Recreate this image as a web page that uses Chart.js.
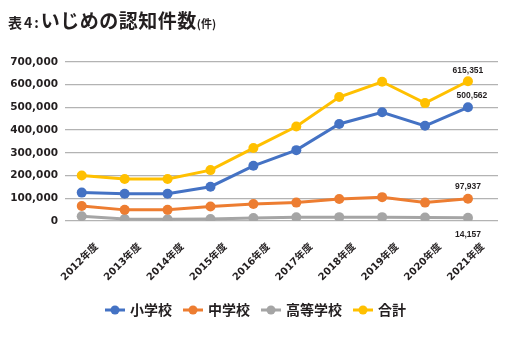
<!DOCTYPE html>
<html>
<head>
<meta charset="utf-8">
<script src="https://cdn.jsdelivr.net/npm/chart.js@4.4.0/dist/chart.umd.min.js"></script>
<style>
  html, body { margin: 0; padding: 0; background: #fff; }
  #wrap { position: relative; width: 513px; height: 347px; }
  #title {
    position: absolute; left: 8px; top: 6px;
    font-family: "Noto Sans CJK JP", sans-serif; font-weight: bold;
    color: #231f20; white-space: nowrap;
  }
  #title .pre { font-size: 14px; letter-spacing: 2px; }
  #title .main { font-size: 19px; letter-spacing: 0.5px; }
  #title .unit { font-size: 11px; }
</style>
</head>
<body>
<div id="wrap">
  <div id="title"><span class="pre">表4:</span><span class="main">いじめの認知件数</span><span class="unit">(件)</span></div>
  <canvas id="chart" width="513" height="347"></canvas>
</div>
<script>
const years = ['2012年度', '2013年度', '2014年度', '2015年度', '2016年度', '2017年度', '2018年度', '2019年度', '2020年度', '2021年度'];
const elementary = [125000, 120000, 120000, 151000, 243000, 312000, 427000, 479000, 419000, 500562];
const juniorHigh = [66000, 49000, 49000, 64000, 75000, 81000, 97000, 105000, 81000, 97937];
const highSchool = [21000, 9000, 8000, 9000, 13000, 16000, 17000, 17000, 15000, 14157];
const total = [200000, 185000, 185000, 224000, 321000, 416000, 546000, 613000, 519000, 615351];
const seriesNames = ['小学校', '中学校', '高等学校', '合計'];
const seriesColors = ['#4472c4', '#ed7d31', '#a5a5a5', '#ffc000'];
const yTicks = [0, 100000, 200000, 300000, 400000, 500000, 600000, 700000];

const textColor = '#231f20';
const allSeries = [elementary, juniorHigh, highSchool, total];

function legendMarker(color) {
  const c = document.createElement('canvas');
  c.width = 20; c.height = 10;
  const g = c.getContext('2d');
  g.strokeStyle = color; g.lineWidth = 3;
  g.beginPath(); g.moveTo(0, 5); g.lineTo(20, 5); g.stroke();
  g.fillStyle = color;
  g.beginPath(); g.arc(10, 5, 4.5, 0, Math.PI * 2); g.fill();
  return c;
}
const markers = seriesColors.map(legendMarker);

// value labels at the last point
const lastLabels = {
  id: 'lastLabels',
  afterDatasetsDraw(chart) {
    const ctx = chart.ctx;
    const offsets = [-12, -12, 17, -11];
    ctx.save();
    ctx.font = 'bold 8.5px "Liberation Sans", sans-serif';
    ctx.fillStyle = textColor;
    ctx.textAlign = 'center';
    ctx.textBaseline = 'middle';
    allSeries.forEach((arr, i) => {
      const pt = chart.getDatasetMeta(i).data[arr.length - 1];
      const v = arr[arr.length - 1];
      const dx = i === 0 ? 4 : 0;
      ctx.fillText(v.toLocaleString('en-US'), pt.x + dx, pt.y + offsets[i]);
    });
    ctx.restore();
  }
};

new Chart(document.getElementById('chart'), {
  type: 'line',
  data: {
    datasets: allSeries.map((arr, i) => ({
      label: seriesNames[i],
      data: arr.map((v, j) => ({ x: j, y: v })),
      borderColor: seriesColors[i],
      backgroundColor: seriesColors[i],
      borderWidth: 3,
      pointRadius: 5,
      pointHoverRadius: 5,
      pointBorderWidth: 0,
      tension: 0
    }))
  },
  options: {
    responsive: false,
    animation: false,
    layout: { padding: { top: 62, left: 0, right: 0, bottom: 20 } },
    scales: {
      x: {
        type: 'linear',
        min: -0.39,
        max: 9.7,
        grid: { display: false },
        border: { display: false },
        afterBuildTicks(scale) { scale.ticks = years.map((_, i) => ({ value: i })); },
        afterFit(scale) { scale.height = 69; },
        ticks: {
          autoSkip: false,
          maxRotation: 45,
          minRotation: 45,
          labelOffset: 15,
          padding: 12,
          color: textColor,
          font: { family: '"DejaVu Sans", "Noto Sans CJK JP", sans-serif', size: 10, weight: 'bold' },
          callback: (v) => years[v]
        }
      },
      y: {
        min: 0,
        max: 700000,
        afterBuildTicks(scale) { scale.ticks = yTicks.map(v => ({ value: v })); },
        afterFit(scale) { scale.width = 65; },
        grid: { color: '#b3b3b3', lineWidth: 1.3, drawTicks: false },
        border: { display: false },
        ticks: {
          padding: 7,
          color: textColor,
          font: { family: '"DejaVu Sans", sans-serif', size: 10.5, weight: 'bold' },
          callback: (v) => v.toLocaleString('en-US')
        }
      },
      // empty right margin so the legend stays centred on the whole canvas
      yRight: {
        position: 'right',
        min: 0,
        max: 700000,
        afterFit(scale) { scale.width = 15; },
        grid: { display: false },
        border: { display: false },
        ticks: { display: false }
      }
    },
    plugins: {
      legend: {
        position: 'bottom',
        labels: {
          usePointStyle: true,
          pointStyleWidth: 16,
          padding: 13,
          color: textColor,
          font: { family: '"Noto Sans CJK JP", sans-serif', size: 14, weight: 'bold' },
          generateLabels(chart) {
            const items = Chart.defaults.plugins.legend.labels.generateLabels(chart);
            items.forEach((it, i) => { it.pointStyle = markers[i]; });
            return items;
          }
        }
      },
      tooltip: { enabled: false }
    }
  },
  plugins: [lastLabels]
});
</script>
</body>
</html>
